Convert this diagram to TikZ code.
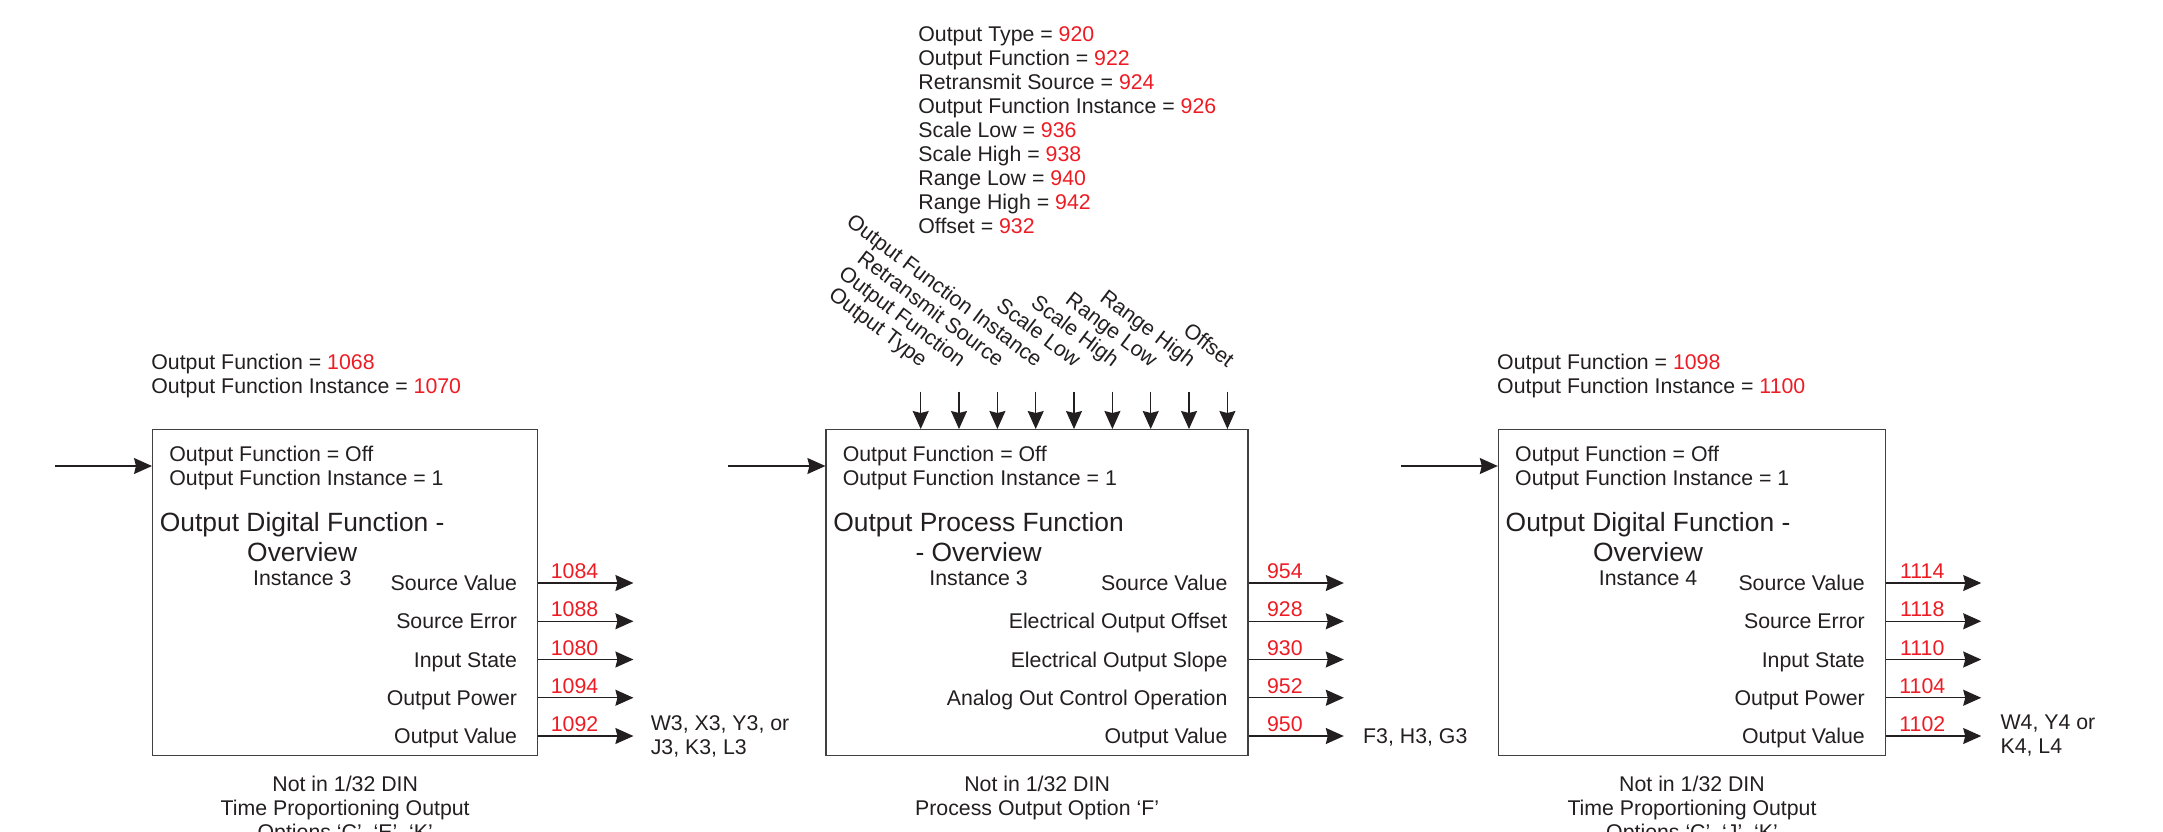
\documentclass[tikz,border=0pt]{standalone}
\usepackage{fontspec}
\setmainfont{Liberation Sans}
\usetikzlibrary{positioning,arrows.meta}
\definecolor{regred}{HTML}{ED1C24}
\definecolor{ink}{HTML}{231F20}

\begin{document}
\begin{tikzpicture}[
  x=0.5pt, y=-0.5pt,
  font=\fontsize{10.65}{12}\selectfont,
  >={Stealth[length=9pt,width=8pt,inset=1pt]},
  block/.style={rectangle, draw=black!75, line width=0.7pt, minimum height=163pt, inner sep=0pt},
  txt/.style={inner sep=0pt, align=left, text=ink},
  port/.style={inner sep=0pt, text height=7.6pt, text depth=0pt, text=ink},
  fname/.style={inner sep=0pt, align=center, font=\fontsize{13.2}{15}\selectfont, text=ink},
  num/.style={inner sep=0pt, above=1.75pt, pos=0.38, text=regred},
  vlabel/.style={inner sep=0pt, rotate=-37, anchor=base east, text=ink},
  note/.style={inner sep=0pt, align=center, text=ink},
  link/.style={->, line width=0.6pt, draw=ink}
]
\useasboundingbox (0,0) rectangle (2163,831);

% the three function blocks
\node[block, minimum width=192.5pt, anchor=north west] (dig3) at (152,429) {};
\node[block, minimum width=211pt, right=143.5pt of dig3] (proc3) {};
\node[block, minimum width=193.5pt, right=124.5pt of proc3] (dig4) {};

% Output Digital Function, instance 3
\node[txt, anchor=north west] (dig3par) at ([shift={(-1,-75)}]dig3.north west) {Output Function = \textcolor{regred}{1068}\\Output Function Instance = \textcolor{regred}{1070}};
\node[txt, anchor=north west] (dig3set) at ([shift={(17,17)}]dig3.north west) {Output Function = Off\\Output Function Instance = 1};
\node[fname, anchor=north west] (dig3name) at ([shift={(7.5,82.5)}]dig3.north west) {Output Digital Function -\\Overview};
\node[txt, below=4.15pt of dig3name] (dig3inst) {Instance 3};
\coordinate (dig3in) at ([shift={(-97,37)}]dig3.north west);
\coordinate (dig3out) at ([xshift=47.5pt]dig3.east);
\node[port, anchor=east] (dig3sv) at ([shift={(-21,154)}]dig3.north east) {Source Value};
\node[port, anchor=east] (dig3se) at ([shift={(-21,192.25)}]dig3.north east) {Source Error};
\node[port, anchor=east] (dig3is) at ([shift={(-21,230.5)}]dig3.north east) {Input State};
\node[port, anchor=east] (dig3op) at ([shift={(-21,268.75)}]dig3.north east) {Output Power};
\node[port, anchor=east] (dig3ov) at ([shift={(-21,307)}]dig3.north east) {Output Value};
\node[txt, anchor=west, xshift=8.5pt] (dig3dst) at (dig3ov -| dig3out) {W3, X3, Y3, or\\J3, K3, L3};
\node[note, below=9.5pt of dig3] (dig3note) {Not in 1/32 DIN\\Time Proportioning Output\\Options ‘C’, ‘E’, ‘K’};

\draw[link] (dig3in) -- (dig3in -| dig3.west);
\draw[link] (dig3sv -| dig3.east) -- node[num] {1084} (dig3sv -| dig3out);
\draw[link] (dig3se -| dig3.east) -- node[num] {1088} (dig3se -| dig3out);
\draw[link] (dig3is -| dig3.east) -- node[num] {1080} (dig3is -| dig3out);
\draw[link] (dig3op -| dig3.east) -- node[num] {1094} (dig3op -| dig3out);
\draw[link] (dig3ov -| dig3.east) -- node[num] {1092} (dig3ov -| dig3out);

% Output Process Function, instance 3
\node[txt, anchor=north west] (proc3par) at (918,26) {Output Type = \textcolor{regred}{920}\\Output Function = \textcolor{regred}{922}\\Retransmit Source = \textcolor{regred}{924}\\Output Function Instance = \textcolor{regred}{926}\\Scale Low = \textcolor{regred}{936}\\Scale High = \textcolor{regred}{938}\\Range Low = \textcolor{regred}{940}\\Range High = \textcolor{regred}{942}\\Offset = \textcolor{regred}{932}};
\node[vlabel] (otype) at ([shift={(95.3,-61)}]proc3.north west) {Output Type};
\node[vlabel] (ofunc) at ([shift={(133.6,-61)}]proc3.north west) {Output Function};
\node[vlabel] (rsrc) at ([shift={(172,-61)}]proc3.north west) {Retransmit Source};
\node[vlabel] (ofinst) at ([shift={(210.3,-61)}]proc3.north west) {Output Function Instance};
\node[vlabel] (slow) at ([shift={(248.6,-61)}]proc3.north west) {Scale Low};
\node[vlabel] (shigh) at ([shift={(287,-61)}]proc3.north west) {Scale High};
\node[vlabel] (rlow) at ([shift={(325.3,-61)}]proc3.north west) {Range Low};
\node[vlabel] (rhigh) at ([shift={(363.6,-61)}]proc3.north west) {Range High};
\node[vlabel] (offs) at ([shift={(402,-61)}]proc3.north west) {Offset};
\node[txt, anchor=north west] (proc3set) at ([shift={(17,17)}]proc3.north west) {Output Function = Off\\Output Function Instance = 1};
\node[fname, anchor=north west] (proc3name) at ([shift={(7.5,82.5)}]proc3.north west) {Output Process Function\\- Overview};
\node[txt, below=4.15pt of proc3name] (proc3inst) {Instance 3};
\coordinate (proc3in) at ([shift={(-97,37)}]proc3.north west);
\coordinate (proc3out) at ([xshift=47.5pt]proc3.east);
\node[port, anchor=east] (proc3sv) at ([shift={(-21,154)}]proc3.north east) {Source Value};
\node[port, anchor=east] (proc3eo) at ([shift={(-21,192.25)}]proc3.north east) {Electrical Output Offset};
\node[port, anchor=east] (proc3es) at ([shift={(-21,230.5)}]proc3.north east) {Electrical Output Slope};
\node[port, anchor=east] (proc3co) at ([shift={(-21,268.75)}]proc3.north east) {Analog Out Control Operation};
\node[port, anchor=east] (proc3ov) at ([shift={(-21,307)}]proc3.north east) {Output Value};
\node[port, anchor=west, xshift=9.5pt] (proc3dst) at (proc3ov -| proc3out) {F3, H3, G3};
\node[note, below=9.5pt of proc3] (proc3note) {Not in 1/32 DIN\\Process Output Option ‘F’};

\draw[link] ([yshift=-11.75pt]otype.base east) -- (otype.base east |- proc3.north);
\draw[link] ([yshift=-11.75pt]ofunc.base east) -- (ofunc.base east |- proc3.north);
\draw[link] ([yshift=-11.75pt]rsrc.base east) -- (rsrc.base east |- proc3.north);
\draw[link] ([yshift=-11.75pt]ofinst.base east) -- (ofinst.base east |- proc3.north);
\draw[link] ([yshift=-11.75pt]slow.base east) -- (slow.base east |- proc3.north);
\draw[link] ([yshift=-11.75pt]shigh.base east) -- (shigh.base east |- proc3.north);
\draw[link] ([yshift=-11.75pt]rlow.base east) -- (rlow.base east |- proc3.north);
\draw[link] ([yshift=-11.75pt]rhigh.base east) -- (rhigh.base east |- proc3.north);
\draw[link] ([yshift=-11.75pt]offs.base east) -- (offs.base east |- proc3.north);
\draw[link] (proc3in) -- (proc3in -| proc3.west);
\draw[link] (proc3sv -| proc3.east) -- node[num] {954} (proc3sv -| proc3out);
\draw[link] (proc3eo -| proc3.east) -- node[num] {928} (proc3eo -| proc3out);
\draw[link] (proc3es -| proc3.east) -- node[num] {930} (proc3es -| proc3out);
\draw[link] (proc3co -| proc3.east) -- node[num] {952} (proc3co -| proc3out);
\draw[link] (proc3ov -| proc3.east) -- node[num] {950} (proc3ov -| proc3out);

% Output Digital Function, instance 4
\node[txt, anchor=north west] (dig4par) at ([shift={(-1,-75)}]dig4.north west) {Output Function = \textcolor{regred}{1098}\\Output Function Instance = \textcolor{regred}{1100}};
\node[txt, anchor=north west] (dig4set) at ([shift={(17,17)}]dig4.north west) {Output Function = Off\\Output Function Instance = 1};
\node[fname, anchor=north west] (dig4name) at ([shift={(7.5,82.5)}]dig4.north west) {Output Digital Function -\\Overview};
\node[txt, below=4.15pt of dig4name] (dig4inst) {Instance 4};
\coordinate (dig4in) at ([shift={(-97,37)}]dig4.north west);
\coordinate (dig4out) at ([xshift=47.5pt]dig4.east);
\node[port, anchor=east] (dig4sv) at ([shift={(-21,154)}]dig4.north east) {Source Value};
\node[port, anchor=east] (dig4se) at ([shift={(-21,192.25)}]dig4.north east) {Source Error};
\node[port, anchor=east] (dig4is) at ([shift={(-21,230.5)}]dig4.north east) {Input State};
\node[port, anchor=east] (dig4op) at ([shift={(-21,268.75)}]dig4.north east) {Output Power};
\node[port, anchor=east] (dig4ov) at ([shift={(-21,307)}]dig4.north east) {Output Value};
\node[txt, anchor=west, xshift=9.5pt] (dig4dst) at (dig4ov -| dig4out) {W4, Y4 or\\K4, L4};
\node[note, below=9.5pt of dig4] (dig4note) {Not in 1/32 DIN\\Time Proportioning Output\\Options ‘C’, ‘J’, ‘K’};

\draw[link] (dig4in) -- (dig4in -| dig4.west);
\draw[link] (dig4sv -| dig4.east) -- node[num] {1114} (dig4sv -| dig4out);
\draw[link] (dig4se -| dig4.east) -- node[num] {1118} (dig4se -| dig4out);
\draw[link] (dig4is -| dig4.east) -- node[num] {1110} (dig4is -| dig4out);
\draw[link] (dig4op -| dig4.east) -- node[num] {1104} (dig4op -| dig4out);
\draw[link] (dig4ov -| dig4.east) -- node[num] {1102} (dig4ov -| dig4out);
\end{tikzpicture}
\end{document}
